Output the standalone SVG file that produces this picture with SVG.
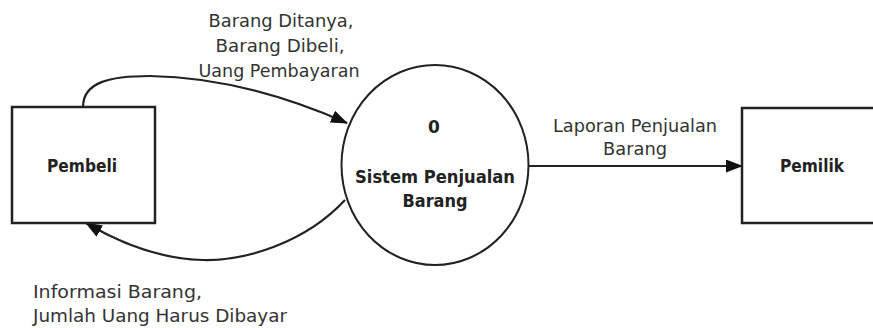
<svg xmlns="http://www.w3.org/2000/svg" width="873" height="328" viewBox="0 0 873 328">
<style>
.box{fill:#fff;stroke:#222;stroke-width:2.5}
.proc{fill:#fff;stroke:#222;stroke-width:2}
.flow{fill:none;stroke:#222;stroke-width:2.2}
.lbl{font-family:"DejaVu Sans","Liberation Sans",sans-serif;font-size:17px;fill:#333}
.nm{font-family:"DejaVu Sans","Liberation Sans",sans-serif;font-size:17px;font-weight:bold;fill:#222}
</style>
<defs>
<marker id="ah" markerWidth="17" markerHeight="13" refX="16" refY="6.5" orient="auto" markerUnits="userSpaceOnUse">
<path d="M0,0 L17,6.5 L0,13 Z" fill="#111"/>
</marker>
</defs>
<rect width="873" height="328" fill="#fff"/>
<g id="connectors">
<path class="flow" d="M83,107 C83,82 110,76 150,76 C220,77 290,98 347,123" marker-end="url(#ah)"/>
<path class="flow" d="M345,200 C305,243 245,261 203,260 C160,259 120,243 86,223" marker-end="url(#ah)"/>
<path class="flow" d="M529,166 L742,166" marker-end="url(#ah)"/>
<g class="lbl" text-anchor="middle">
<text x="281" y="27" textLength="145" lengthAdjust="spacingAndGlyphs">Barang Ditanya,</text>
<text x="280" y="52" textLength="129" lengthAdjust="spacingAndGlyphs">Barang Dibeli,</text>
<text x="279" y="77" textLength="161" lengthAdjust="spacingAndGlyphs">Uang Pembayaran</text>
<text x="635" y="132" textLength="164" lengthAdjust="spacingAndGlyphs">Laporan Penjualan</text>
<text x="635" y="155" textLength="64" lengthAdjust="spacingAndGlyphs">Barang</text>
</g>
<g class="lbl">
<text x="33" y="298" textLength="169" lengthAdjust="spacingAndGlyphs">Informasi Barang,</text>
<text x="33" y="322" textLength="254" lengthAdjust="spacingAndGlyphs">Jumlah Uang Harus Dibayar</text>
</g>
</g>
<g id="pembeli">
<rect class="box" x="12" y="107" width="143" height="116"/>
<text class="nm" x="82" y="172" text-anchor="middle" textLength="70" lengthAdjust="spacingAndGlyphs">Pembeli</text>
</g>
<g id="sistem">
<ellipse class="proc" cx="435" cy="165" rx="93.5" ry="100"/>
<text class="nm" x="434" y="133" text-anchor="middle">0</text>
<text class="nm" x="435" y="183" text-anchor="middle" textLength="160" lengthAdjust="spacingAndGlyphs">Sistem Penjualan</text>
<text class="nm" x="435" y="207" text-anchor="middle" textLength="65" lengthAdjust="spacingAndGlyphs">Barang</text>
</g>
<g id="pemilik">
<rect class="box" x="742" y="108" width="145" height="115"/>
<text class="nm" x="812" y="172" text-anchor="middle" textLength="64" lengthAdjust="spacingAndGlyphs">Pemilik</text>
</g>
</svg>
